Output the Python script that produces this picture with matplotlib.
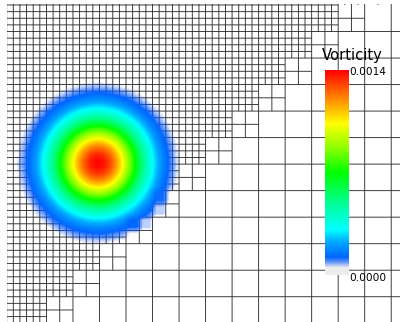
import numpy as np
import matplotlib.pyplot as plt
from matplotlib.collections import LineCollection
from matplotlib.colors import LinearSegmentedColormap
from matplotlib.patches import Rectangle

# quadtree mesh, in units of the finest cell; blocks of 4x4 finest cells
block = 4
blocks_u = range(0, 16)
blocks_v = range(-2, 14)
fine_max = 12   # blocks with bu + bv <= fine_max are fully refined
mid_max = 13    # next band is one level coarser, the rest two levels
top_cut = 52    # top border line stops here

# gaussian vortex (finest-cell units)
vort_center = (15.7, 23.9)
vort_radius = 6.75
vort_peak = 0.0014

# colour scale
cbar_title = 'Vorticity'
cbar_ticks = [0.0, 0.0014]
cbar_labels = ['0.0000', '0.0014']
cmap_pos = [0.0, 0.035, 0.06, 0.085, 0.16, 0.22, 0.36, 0.50, 0.62, 0.74, 0.87, 1.0]
cmap_rgba = [(0.0, 0.3, 1.0, 0.0), (0.0, 0.3, 1.0, 0.0), (0.0, 0.34, 1.0, 0.55),
             (0.0, 0.40, 1.0, 1.0), (0.0, 0.66, 1.0, 1.0), (0.0, 1.0, 1.0, 1.0),
             (0.0, 1.0, 0.55, 1.0), (0.0, 1.0, 0.0, 1.0), (0.55, 1.0, 0.0, 1.0),
             (1.0, 1.0, 0.0, 1.0), (1.0, 0.5, 0.0, 1.0), (1.0, 0.0, 0.0, 1.0)]
cmap = LinearSegmentedColormap.from_list('vort', list(zip(cmap_pos, cmap_rgba)))

# leaf cells (u0, v0, size)
cells = []
for bv in blocks_v:
    for bu in blocks_u:
        s = bu + bv
        size = 1 if s <= fine_max else (2 if s <= mid_max else 4)
        for j in range(0, block, size):
            for i in range(0, block, size):
                cells.append((bu * block + i, bv * block + j, size))

# unique unit edges, merged into long lines
hedges, vedges = set(), set()
for u0, v0, s in cells:
    for k in range(s):
        hedges.add((v0, u0 + k))
        hedges.add((v0 + s, u0 + k))
        vedges.add((u0, v0 + k))
        vedges.add((u0 + s, v0 + k))
hedges = {(a, b) for a, b in hedges if not (a == 0 and b >= top_cut)}


def merge(edges):
    lines = {}
    for a, b in edges:
        lines.setdefault(a, []).append(b)
    out = []
    for a, bs in lines.items():
        bs.sort()
        start = prev = bs[0]
        for b in bs[1:]:
            if b != prev + 1:
                out.append((a, start, prev + 1))
                start = b
            prev = b
        out.append((a, start, prev + 1))
    return out


segs = [[(b0, a), (b1, a)] for a, b0, b1 in merge(hedges)]
segs += [[(a, b0), (a, b1)] for a, b0, b1 in merge(vedges)]

# vorticity sampled at leaf-cell centres, stored on the finest grid
u_min, v_min = 0, blocks_v[0] * block
nu = len(blocks_u) * block
nv = len(blocks_v) * block
field = np.zeros((nv, nu))
cx, cy = vort_center
for u0, v0, s in cells:
    uc, vc = u0 + s / 2, v0 + s / 2
    val = vort_peak * np.exp(-((uc - cx) ** 2 + (vc - cy) ** 2) / vort_radius ** 2)
    field[v0 - v_min:v0 - v_min + s, u0 - u_min:u0 - u_min + s] = val

fig = plt.figure(figsize=(4.0, 3.22), dpi=100)
ax = fig.add_axes([0, 0, 1, 1])
cell_px = 6.63
u_left = 2 - 6.67 / cell_px
v_top = -5 / cell_px
ax.axis('off')

clip = Rectangle((2, -0.1), 80, 80, transform=ax.transData)
lc = LineCollection(segs, colors='#2e2e2e', linewidths=0.65, snap=False, zorder=1)
ax.add_collection(lc)
lc.set_clip_path(clip)

im = ax.imshow(field, cmap=cmap, vmin=0, vmax=vort_peak, interpolation='bilinear',
               extent=(u_min, u_min + nu, v_min + nv, v_min), zorder=2)
im.set_clip_path(clip)
ax.set_aspect('auto')
ax.set_xlim(u_left, u_left + 400 / cell_px)
ax.set_ylim(v_top + 322 / cell_px, v_top)

# colour bar
cax = fig.add_axes([325 / 400, 47 / 322, 24 / 400, 205 / 322])
cax.set_facecolor('#ececec')
grad = np.linspace(cbar_ticks[0], cbar_ticks[-1], 256)[:, None]
cax.imshow(grad, cmap=cmap, vmin=cbar_ticks[0], vmax=cbar_ticks[-1], aspect='auto',
           origin='lower', extent=(0, 1, cbar_ticks[0], cbar_ticks[-1]))
cax.set_xticks([])
cax.set_yticks([])
for sp in cax.spines.values():
    sp.set_visible(False)

font = dict(family='DejaVu Sans', color='black')
fig.text(352 / 400, 1 - 55.5 / 322, cbar_title, fontsize=10.6, ha='center', va='center', **font)
for val, lab in zip(cbar_ticks, cbar_labels):
    frac = (val - cbar_ticks[0]) / (cbar_ticks[-1] - cbar_ticks[0])
    y = 1 - (278 - frac * 205.5) / 322
    fig.text(349.5 / 400, y, lab, fontsize=7.6, ha='left', va='center', **font)

fig.savefig('out.png', dpi=100, facecolor='white')
